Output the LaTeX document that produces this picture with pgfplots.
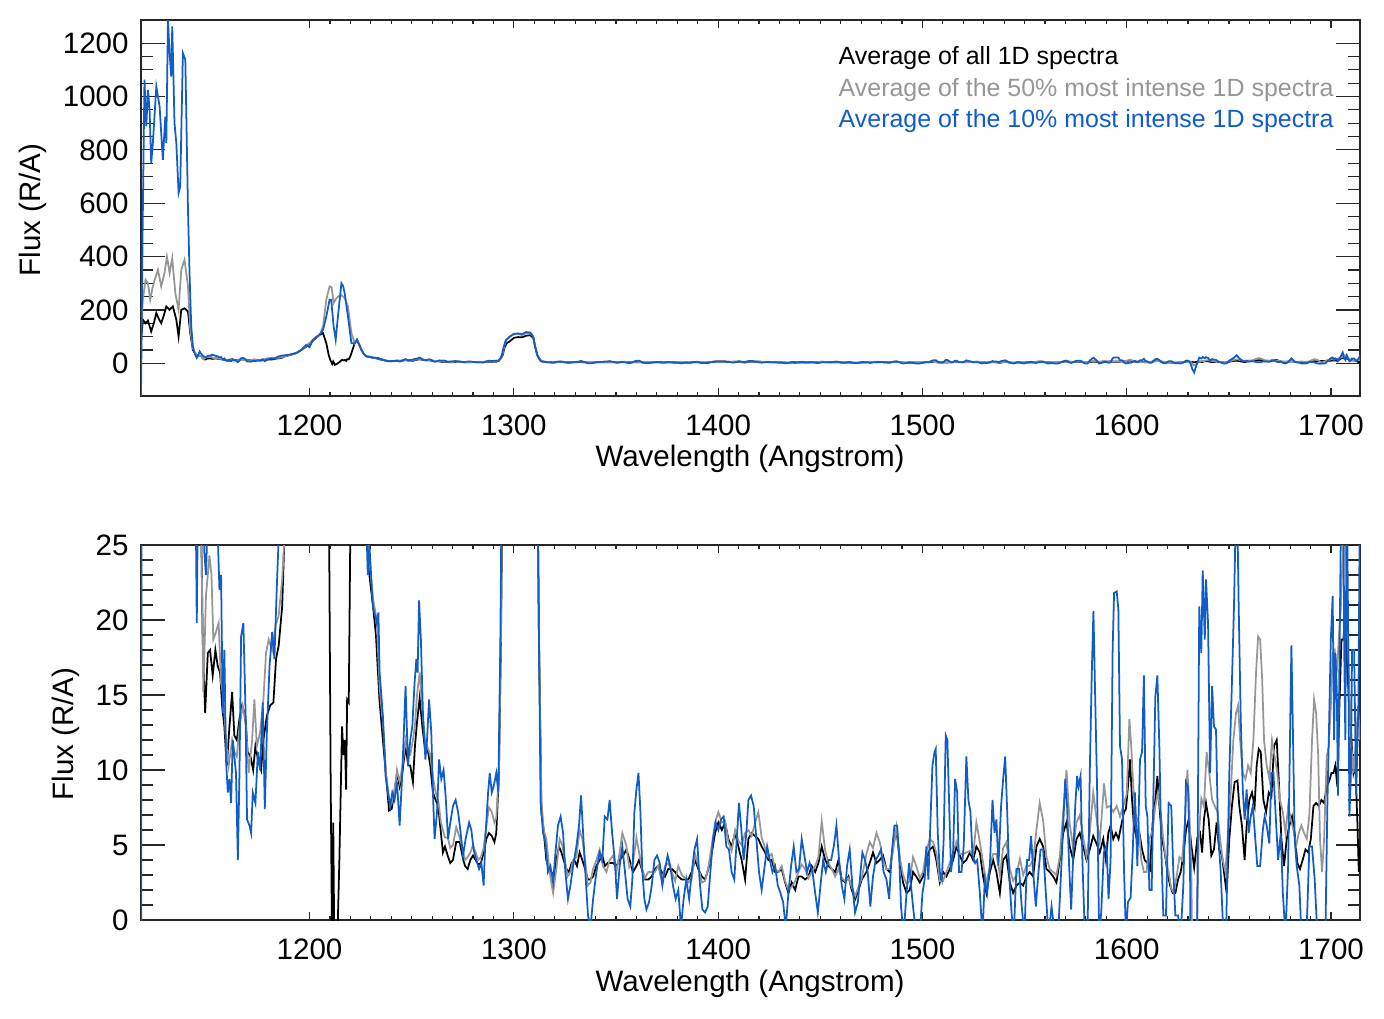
\documentclass[border=0pt]{standalone}
\usepackage{fontspec}
\setmainfont{Liberation Sans}
\usepackage{pgfplots}
\usepackage{pgfplotstable}
\pgfplotsset{compat=1.18}
\definecolor{cblue}{RGB}{16,92,200}
\definecolor{cgray}{RGB}{150,150,150}

\pgfplotstableread{
x y
1117.5 80
1118.4 163
1119.7 150
1120.9 160
1122.5 119
1123.8 150
1125.0 188
1126.3 165
1127.4 150
1128.7 180
1129.9 213
1131.5 200
1133.1 213
1134.8 163
1135.9 100
1137.2 200
1138.8 206
1140.5 194
1141.6 113
1142.9 50
1144.5 31
1146.0 28
1147.0 26
1147.7 18.7
1148.9 13.8
1150.2 17.8
1151.3 18
1152.6 16.3
1153.9 18
1155.1 16.9
1156.2 16.5
1157.2 14.3
1158.3 12.9
1159.5 10.3
1160.8 12.9
1162.1 15.2
1163.2 12.3
1164.4 12
1165.7 13.4
1167.0 14.3
1168.6 13.6
1169.7 11.2
1171.1 10.9
1172.4 10
1173.5 11.6
1174.8 10.7
1176.3 10
1177.4 12
1179.1 13.6
1180.7 14.3
1182.3 14.5
1183.6 17.4
1184.9 18.3
1186.6 20.9
1187.7 25.5
1190.0 30
1193.5 38
1196.0 50
1198.4 62
1201.7 85
1204.9 106
1206.6 113
1208.2 75
1209.4 30
1210.3 10
1211.1 -3
1211.6 6.5
1212.4 -6
1213.3 -3
1214.6 4
1215.9 12.9
1216.6 11
1217.3 12
1217.9 8.7
1218.4 14.7
1219.2 14.5
1219.9 25
1220.5 38
1222.1 75
1223.2 88
1224.3 70
1225.4 50
1226.5 35
1227.8 26
1229.3 23
1231.0 21
1232.5 19
1234.2 14.7
1235.9 12
1237.6 9.4
1238.9 7.3
1240.2 7.4
1241.5 8.5
1242.8 9.8
1244.1 8.9
1245.4 9.8
1247.0 11.6
1248.3 10.3
1249.3 10.3
1250.6 9.2
1251.6 11.6
1252.6 13.2
1253.9 14.8
1255.2 12.9
1256.5 11.4
1257.8 11.4
1259.1 10.3
1260.4 8.5
1261.7 8
1263.0 7.6
1264.3 5.8
1265.3 4.5
1266.3 4.9
1267.6 4.3
1268.9 3.8
1270.2 4
1271.8 5.2
1273.5 5.2
1274.8 4.3
1276.1 3.6
1277.4 3.4
1278.7 4
1280.0 4.3
1281.3 4
1282.6 3.7
1283.9 3.8
1285.2 4.5
1286.5 5.4
1287.8 5.8
1289.2 5.6
1290.5 5.2
1291.4 5.8
1292.7 9.8
1293.7 18.7
1294.5 30
1295.5 60
1296.5 75
1298.0 82
1300.0 95
1302.0 98
1304.0 97
1306.0 103
1308.0 105
1309.5 95
1310.5 60
1311.5 30
1312.3 18.7
1313.5 7.2
1314.6 6
1315.9 4
1317.2 3.4
1318.4 3.2
1319.5 2.9
1320.8 4
1322.1 4.9
1323.3 4.5
1324.4 4
1325.7 3.4
1327.0 3.2
1328.3 3.8
1329.6 4
1330.9 3.6
1332.2 4.5
1333.5 4
1334.9 3.4
1336.2 2.7
1337.5 2.7
1338.8 2.9
1340.4 3.6
1342.0 4
1343.3 4.3
1344.6 3.6
1346.0 3.8
1347.3 3.8
1348.6 3.8
1350.2 3.6
1351.8 4
1353.5 4.3
1355.1 4.7
1356.7 4
1358.3 3.2
1360.0 3.6
1361.3 4
1362.6 3.4
1364.2 2.7
1365.8 2.7
1367.5 2.9
1369.1 3.4
1370.7 3.6
1372.4 3.2
1374.0 2.9
1375.6 3.4
1377.3 3.4
1378.9 3.2
1380.5 2.9
1382.2 2.7
1383.8 2.7
1385.4 2.7
1387.1 3.2
1388.7 4
1390.3 3.4
1392.0 2.9
1393.6 2.7
1395.2 3.4
1396.9 4.5
1398.5 5.8
1400.1 6.5
1401.8 6
1403.4 6.5
1405.0 5.4
1406.6 4.9
1408.3 5.8
1409.9 4.9
1411.5 4
1413.2 2.7
1414.8 5.4
1416.4 5.8
1418.1 5.6
1419.7 5.4
1421.3 4.9
1423.0 4.5
1424.6 4
1426.2 4
1427.9 3.2
1429.5 3.2
1431.1 3.4
1432.8 2.5
1434.4 1.8
1436.0 2.5
1437.7 2
1439.3 2.9
1440.9 2.9
1442.6 2.7
1444.2 2.9
1445.8 3.6
1447.5 3.2
1449.1 3.8
1450.7 4.9
1452.4 4
1454.0 3.6
1455.6 3.4
1457.3 3.2
1458.9 4
1460.5 2.7
1462.2 2.5
1463.8 2.9
1465.4 2
1467.1 1.4
1468.7 2
1470.3 2.7
1472.6 3.2
1474.2 3.8
1475.8 4.5
1477.5 3.8
1479.1 4
1480.7 4.3
1482.4 3.4
1484.0 3.2
1485.6 4.9
1487.3 6
1488.9 4
1490.5 2.5
1492.2 1.8
1493.8 2
1495.4 3.2
1497.0 2.9
1498.7 2.5
1500.3 2.9
1501.9 4
1503.6 4.7
1505.2 4.9
1506.8 4
1508.5 2.5
1510.1 3.2
1511.7 2.9
1513.4 3.4
1515.0 4
1516.6 4.9
1518.3 4.3
1519.9 3.8
1521.5 4
1523.2 4.5
1524.8 4
1526.4 4.9
1528.1 4.5
1529.7 2.9
1531.3 1.8
1533.0 3.2
1534.6 4
1536.2 3.2
1537.9 1.8
1539.5 4
1541.1 4.3
1542.8 2.5
1544.4 1.8
1546.0 2.3
1547.7 2.5
1549.3 2.3
1550.9 2.9
1552.5 3.2
1554.2 2.9
1555.8 4.9
1557.4 5.4
1559.1 4.9
1560.7 3.4
1562.3 3.2
1564.0 2.9
1565.6 2.5
1567.2 4
1568.9 5.8
1570.5 6.5
1572.1 4.9
1573.8 4
1575.4 5.4
1577.0 5.8
1578.7 4.9
1580.3 4
1581.9 4.7
1583.6 5.6
1585.2 5.1
1586.8 4.5
1588.5 5.4
1589.8 4
1591.0 5.8
1592.1 6.3
1593.4 5.4
1594.7 5.8
1596.0 5.4
1597.3 6.3
1598.7 7.2
1599.6 7.4
1600.6 8.9
1601.6 10.7
1602.6 8
1603.5 6.3
1604.9 5.4
1606.2 5.8
1607.5 4.7
1608.8 4
1610.1 3.8
1611.4 3.4
1612.7 6.5
1614.0 8
1615.0 9.6
1616.0 7.6
1617.3 5.4
1618.6 4.5
1619.9 3.2
1621.2 2.3
1622.5 1.8
1623.8 1.8
1625.1 2.7
1626.4 3.2
1627.7 4.3
1629.0 6
1630.3 6.7
1631.6 5
1633.0 3.5
1634.6 5.5
1635.9 5.8
1636.9 4.5
1637.8 6.7
1638.8 7.8
1640.1 6.7
1641.4 4.3
1642.7 4.7
1644.0 6.5
1645.3 4.7
1646.6 4.3
1647.6 3.2
1648.9 1.8
1650.2 5.4
1651.5 7.6
1652.8 9.2
1654.2 9.3
1655.1 7.6
1656.4 6.3
1657.7 4
1658.7 6.3
1660.0 8
1661.3 8.5
1662.6 7.6
1663.6 10.3
1664.6 11.4
1665.6 11.2
1666.9 8
1668.2 7.2
1669.5 8.5
1670.8 8.2
1672.1 11.6
1673.4 12
1674.4 9.4
1675.7 5.4
1677.0 3.6
1678.3 5.4
1679.6 6.3
1680.9 6.9
1682.2 5.8
1683.5 3.8
1684.8 3.4
1686.1 4
1687.5 4.7
1688.8 4.5
1690.1 5.4
1691.4 7.6
1692.7 7.8
1694.0 7.6
1695.3 8
1696.6 7.8
1697.9 8.9
1699.2 9.3
1700.2 9.8
1701.2 9.8
1702.1 10.3
1703.1 8.9
1704.1 14.3
1705.1 18.7
1706.0 18.7
1707.0 20
1708.0 16.5
1709.0 14.3
1710.0 12
1711.0 9.8
1711.9 10.3
1712.9 6.5
1713.6 3.2
1714.2 4.9
}\blackdata

\pgfplotstableread{
x y
1117.5 120
1118.4 238
1119.7 313
1120.9 300
1122.0 238
1123.3 288
1124.5 320
1125.8 350
1127.4 288
1129.0 338
1130.2 400
1131.5 338
1132.8 394
1134.3 263
1135.9 200
1137.2 350
1138.8 388
1140.5 288
1141.6 125
1142.9 56
1144.5 30
1146.0 28
1147.0 26
1148.0 15.2
1149.3 21.6
1151.0 24.3
1152.0 23
1152.9 18.7
1154.2 19.2
1155.5 19.8
1156.7 15.8
1157.8 14.9
1159.1 12
1160.4 10.3
1162.1 12
1163.2 11.2
1164.4 10.9
1165.7 12.9
1167.3 14.3
1168.9 12.9
1170.2 9.8
1171.9 12
1173.0 14.7
1174.2 11.6
1175.8 12.5
1177.4 14.7
1178.7 17.8
1180.0 18.7
1181.7 18
1183.3 19.6
1184.9 20.3
1186.6 22.7
1187.7 25.5
1190.0 30
1193.5 38
1196.0 50
1198.4 65
1201.7 88
1204.9 106
1206.6 138
1208.2 238
1209.8 288
1210.8 285
1211.8 225
1212.8 240
1213.9 250
1215.6 256
1217.2 244
1218.8 213
1220.5 113
1222.1 75
1223.2 88
1224.3 70
1225.4 50
1226.5 35
1227.7 27
1229.3 24
1231.0 21.5
1232.9 20
1234.3 15.5
1236.0 13
1237.6 9.6
1239.0 8
1240.2 7.8
1241.5 8.5
1242.8 10
1244.1 9.2
1245.4 10.2
1247.0 12
1248.3 11
1249.3 11
1250.6 12
1251.6 13
1252.6 15
1253.9 16.5
1255.2 14
1256.5 12
1257.8 11.5
1259.1 11
1260.4 9.5
1261.7 8.5
1263.0 8
1264.3 6.5
1265.3 6
1266.3 5.5
1267.6 5.5
1268.9 4.8
1270.2 5
1271.8 6.2
1273.5 5.5
1274.8 4.8
1276.1 4
1277.4 4.2
1278.7 4.5
1280.0 5
1281.3 4.5
1282.6 4
1283.9 4.2
1285.2 4.8
1286.5 6.2
1287.8 7.5
1289.2 7.2
1290.5 6.5
1291.4 6.8
1292.7 10
1293.7 19
1294.5 35
1295.5 70
1296.5 90
1298.0 100
1300.0 108
1302.0 110
1304.0 106
1306.0 113
1308.0 112
1309.5 100
1310.5 60
1311.5 30
1312.3 19
1313.5 8
1314.6 6
1315.9 5.4
1317.5 3.2
1319.2 1.8
1320.8 3.4
1322.4 5.4
1323.7 5
1325.0 4
1326.3 2.9
1327.7 3.2
1329.0 4
1330.6 4.2
1332.2 6
1333.5 5.4
1334.9 4
1336.2 2.3
1337.5 2.5
1338.8 3.4
1340.4 4
1342.0 4.7
1343.6 3.6
1345.3 3.2
1346.9 4
1348.6 4.3
1350.2 3.2
1351.8 4.5
1353.1 5.8
1355.0 5
1356.5 3.5
1358.3 3.8
1360.0 5.5
1361.3 4.5
1362.6 3.5
1364.2 2.8
1365.8 3.2
1367.5 3.2
1369.0 3.2
1370.7 3.6
1372.4 2.6
1374.0 3.6
1375.6 3.8
1377.3 3.2
1379.0 2.6
1380.5 3.6
1382.2 3.0
1383.8 2.8
1385.4 2.5
1387.0 2.7
1388.7 4.4
1390.3 3.6
1392.0 2.5
1393.6 2.6
1395.2 3.5
1396.9 5
1398.5 6.5
1400.1 7.2
1401.8 6.5
1403.4 6.6
1405.0 5.2
1406.6 4.6
1408.3 6
1409.9 5.3
1411.5 5
1413.2 5.8
1414.8 6
1416.4 5.6
1418.1 6.5
1419.7 7.2
1421.3 5.5
1423.0 4.8
1424.6 4.2
1426.2 4.4
1427.9 3.4
1429.5 3.2
1431.1 3.6
1432.8 2.6
1434.4 2.0
1436.0 2.2
1437.7 2.6
1439.3 3.2
1440.9 3.7
1442.6 3.4
1444.2 2.8
1445.8 3.2
1447.5 3.6
1449.1 4.2
1450.7 6.6
1452.4 4.6
1454.0 3.8
1455.6 3.4
1457.3 2.9
1458.9 3.4
1460.5 2.8
1462.2 2.6
1463.8 2.8
1465.4 2.2
1467.1 1.6
1468.7 2.2
1470.3 2.8
1472.6 4.4
1474.2 5.2
1475.8 4.8
1477.5 5.8
1479.1 5.2
1480.7 4
1482.4 3.4
1484.0 3.4
1485.6 4.6
1487.3 6.2
1488.9 4.2
1490.5 3
1492.2 2.4
1493.8 2.6
1495.4 4.2
1497.0 3.6
1498.7 2.8
1500.3 3.2
1501.9 4.6
1503.6 5.4
1505.2 5.2
1506.8 4.5
1508.5 2.6
1510.1 2.6
1511.7 3.2
1513.4 3.8
1515.0 4.5
1516.6 5.2
1518.3 4.4
1519.9 4.4
1521.5 4.5
1523.2 4.6
1524.8 4.3
1526.4 6.5
1528.1 5.2
1529.7 3.8
1531.3 2.4
1533.0 3.6
1534.6 4.4
1536.2 4.4
1537.9 3.0
1539.5 4.8
1541.1 5.2
1542.8 3.4
1544.4 2.6
1546.0 3.0
1547.7 4.1
1549.3 3.0
1550.9 3.6
1552.5 3.6
1554.2 4.0
1555.8 6.0
1557.4 7.8
1559.1 6.6
1560.7 4.2
1562.3 3.4
1564.0 3.2
1565.6 3.0
1567.2 4.2
1568.9 7.2
1570.5 10.0
1572.1 6.4
1573.8 4.8
1575.4 6.5
1577.0 7.0
1578.7 5.5
1580.3 4.2
1581.9 5.8
1583.6 8.5
1585.2 6.8
1586.8 5.2
1588.9 9.1
1590.2 7.5
1591.8 7.6
1593.4 7.2
1595.1 7.6
1596.7 6.9
1598.3 7.6
1600.0 8.4
1601.3 13.4
1602.2 11.6
1603.2 8.9
1604.5 6.9
1605.8 6.5
1607.1 4
1608.4 3.2
1609.7 3.2
1611.1 5.4
1612.7 6
1614.0 7.6
1615.3 8.5
1616.6 7.2
1617.9 5.4
1619.2 4
1620.5 3.2
1621.8 2.1
1623.1 1.8
1624.4 2.9
1625.8 4.2
1627.1 4
1628.4 6.3
1629.7 10
1630.6 7.6
1631.6 3.2
1632.6 -8
1634.0 -4
1635.2 5.4
1636.5 8.1
1637.8 7.6
1639.1 11.2
1640.4 9.8
1641.8 8
1643.1 7.6
1644.4 7.2
1645.7 5.4
1647.0 4
1648.3 3.2
1649.6 5.8
1650.9 8.5
1652.2 12
1653.5 13.8
1654.5 14.3
1655.5 12
1656.8 9.8
1658.1 9.4
1659.4 10.3
1660.7 9.8
1662.0 12
1663.3 16.5
1664.3 18.9
1665.3 18.7
1666.3 16
1667.2 12
1668.5 10.3
1669.8 9.4
1671.1 12
1672.4 10.9
1673.7 9.8
1675.0 8
1676.4 7.2
1677.7 5.8
1679.0 7.6
1680.3 6.7
1681.6 6
1682.9 4.9
1684.2 5.8
1685.5 6.3
1686.8 5.8
1688.1 5.4
1689.4 7
1690.7 12
1691.7 14.7
1692.7 13.8
1693.7 11
1694.6 5.4
1695.6 3.2
1696.6 5.4
1697.9 10.9
1698.9 11.6
1699.9 14.3
1700.8 17.8
1701.8 18
1702.8 16.5
1703.8 18.7
1704.8 20.9
1705.7 24.3
1706.7 30
1707.7 23
1708.7 16.5
1709.7 12
1711.0 9.8
1712.3 12
1713.2 14.3
1714.2 12
}\graydata

\pgfplotstableread{
x y
1117.5 -123
1118.3 500
1119.2 1063
1120.1 888
1120.9 1025
1121.7 950
1122.5 750
1123.3 825
1125.0 1038
1126.6 963
1128.2 763
1129.4 925
1129.9 825
1130.7 1287
1131.5 1163
1132.3 1075
1132.8 1263
1133.9 900
1134.8 825
1135.9 638
1136.7 663
1138.0 1163
1139.2 1138
1140.5 575
1141.3 325
1142.1 138
1142.9 63
1143.8 35
1144.8 19.8
1145.5 30
1146.2 44
1147.0 35
1147.8 28
1148.5 24.5
1149.3 23
1150.2 27
1151.8 30
1152.6 32
1153.8 28
1155.1 25.5
1155.9 22
1156.7 23
1157.5 13.8
1158.3 18
1159.1 10.7
1160.0 8.5
1160.8 9.4
1161.6 7.8
1162.4 12
1163.2 10.9
1164.0 9.8
1164.9 4.0
1165.7 9.8
1166.5 18.9
1167.6 19.8
1168.6 14.3
1169.4 6.7
1170.6 6.3
1171.4 5.8
1172.2 8.5
1173.5 7.8
1174.7 11.2
1175.8 10.0
1177.1 14.5
1178.1 7.4
1179.1 12.5
1180.4 16.9
1181.7 19.2
1182.8 17.4
1184.0 22.3
1184.9 25.5
1186.0 28
1188.0 30
1190.0 32
1192.0 35
1194.0 40
1196.0 50
1198.4 69
1200.0 60
1201.7 88
1203.5 100
1204.9 106
1206.6 125
1208.2 175
1209.8 238
1210.6 238
1211.8 138
1212.8 88
1213.9 175
1215.6 300
1216.4 290
1217.2 263
1218.8 175
1220.5 75
1222.1 75
1223.2 88
1224.3 70
1225.4 50
1226.5 35
1227.7 27
1228.5 23
1229.3 25
1231.0 20.9
1232.9 19.8
1233.7 20.5
1234.3 16.5
1235.9 13.6
1237.2 9.6
1238.4 8.5
1239.5 7.6
1240.5 8.5
1241.6 8.0
1242.8 9.2
1244.1 6.3
1245.4 9.8
1247.0 15.6
1248.2 10.3
1249.3 12
1250.3 12.9
1251.4 15.8
1252.3 17.4
1252.9 16.5
1253.6 21.3
1254.5 18.7
1255.5 13.8
1256.7 10.7
1257.5 12
1258.5 14.7
1259.6 12.5
1260.4 8.5
1261.2 5.4
1262.4 7.2
1263.4 10.7
1264.5 9.4
1265.6 10
1266.6 8.3
1267.8 5.4
1268.9 6.5
1270.2 7.6
1271.5 8
1272.7 7.2
1273.8 6
1275.1 4.3
1276.4 5.4
1278.1 6.5
1279.2 6
1280.3 4.7
1281.6 4
1283.0 3.4
1284.1 3.8
1285.2 2.3
1286.2 5.8
1287.4 8.5
1288.2 9.8
1289.2 8.5
1290.1 8.9
1291.4 9.8
1292.4 8.5
1293.4 18.7
1294.1 30
1295.0 60
1296.0 85
1298.0 100
1300.0 110
1302.0 112
1304.0 108
1306.0 117
1308.0 115
1309.5 100
1310.5 60
1311.5 30
1312.3 18.7
1313.1 7.8
1314.3 5.8
1315.4 5.2
1316.7 3.2
1317.9 3.6
1319.2 2.5
1320.5 4.7
1321.6 6.3
1322.9 6.9
1324.1 5.8
1325.2 3.2
1326.5 1.4
1327.7 2.3
1329.0 3.6
1330.6 4.9
1331.9 6.3
1332.9 8.3
1333.9 5.8
1335.2 2.7
1336.3 0.3
1337.5 -0.5
1338.8 1.4
1340.4 3.2
1342.0 4.5
1343.3 4
1344.5 6.9
1345.8 6.7
1346.9 8
1348.1 5.8
1349.4 4
1350.5 1.4
1351.8 3.6
1353.1 4.9
1354.4 3.2
1355.7 1.4
1357.0 0.9
1358.0 2.7
1359.0 7.2
1360.0 8.7
1361.0 9.8
1361.9 7.4
1362.9 3.2
1363.9 1.4
1364.9 0.7
1366.2 1.2
1367.5 2.3
1368.8 4
1370.1 4.3
1371.4 3.8
1372.7 2.3
1374.0 3.4
1375.3 4.3
1376.6 3.6
1377.9 2.3
1379.2 1.4
1380.5 2
1381.8 -0.5
1383.1 1.4
1384.4 2.7
1385.8 1.4
1387.1 3.2
1388.4 4.7
1389.7 5.4
1391.0 2.5
1392.3 0.7
1393.6 0.5
1394.9 0.9
1396.2 3.2
1397.5 5.4
1398.8 6.5
1400.1 6
1401.4 6.7
1402.7 6.9
1404.0 4.9
1405.3 4.7
1406.6 3.2
1407.9 2.7
1409.3 5.8
1410.2 7.8
1411.2 6.3
1412.5 4
1413.8 5.8
1414.8 8
1416.1 8.3
1417.4 7.6
1418.7 5.4
1420.0 3.2
1421.3 2
1422.6 3.4
1424.0 4.9
1425.3 4
1426.6 3.2
1427.9 3.6
1429.2 2.3
1430.5 1.8
1431.8 1.2
1433.1 -0.5
1434.4 1.8
1435.7 3.6
1437.0 4.9
1438.3 3.2
1439.6 3.4
1440.9 5.4
1442.2 4.3
1443.5 3.2
1444.8 3.8
1446.2 3.2
1447.5 1.8
1448.8 0.5
1450.1 2.3
1451.4 4
1452.7 3.2
1454.0 4
1455.3 4
1456.6 4.9
1457.9 6.3
1459.2 4
1460.5 2.3
1461.8 1.4
1463.1 3.6
1464.4 4.7
1465.7 2.3
1467.0 0.5
1468.4 1.2
1469.7 3.2
1470.6 4.5
1471.9 4
1473.2 3.2
1474.5 0.9
1475.8 2.9
1477.1 4
1478.4 4.3
1479.7 4.7
1481.0 3.2
1482.4 2.7
1483.7 1.4
1485.0 4.5
1486.3 6.3
1487.6 6.3
1488.6 4.3
1489.5 0.9
1490.8 -1
1492.2 1.8
1493.5 3.8
1494.6 2
1495.7 0.5
1497.0 -1
1498.7 -1
1500.0 1.8
1501.1 2.7
1501.9 4.9
1502.9 2.7
1503.9 6.5
1504.9 10.3
1505.9 11.2
1506.5 11.4
1507.5 5.8
1508.5 3.2
1509.5 2.7
1510.4 5.4
1511.4 12.3
1512.2 12
1513.1 7.6
1514.0 3.2
1515.0 4.5
1516.0 9.4
1517.0 8.5
1517.9 3.2
1519.1 3.2
1520.2 4.9
1521.5 10.9
1522.5 8
1523.5 7.2
1524.5 4.3
1525.8 3.8
1526.8 4
1528.1 1.8
1529.4 -1
1530.5 2.7
1531.7 1.8
1533.0 3.6
1534.3 8
1535.3 5.8
1536.2 6.7
1537.2 3.6
1538.5 7.6
1539.5 9.4
1540.5 10.9
1541.5 7.2
1542.4 3.2
1543.6 0.5
1544.7 -1
1546.0 3.4
1547.3 3.4
1548.6 0.9
1549.9 -1
1551.2 4
1552.2 4
1553.2 5.6
1554.2 3.2
1555.5 0.9
1556.8 3.2
1557.8 4.7
1559.1 4.7
1560.4 1.8
1561.7 -1
1563.2 0.9
1564.8 -1
1566.4 -1
1567.7 2.7
1568.9 6.3
1569.9 9.4
1570.8 7.6
1571.8 3.6
1572.8 0.7
1573.8 4.3
1574.8 7.6
1575.7 9.6
1576.4 8.9
1577.4 9.6
1578.3 4
1579.5 -1
1580.8 -1
1581.9 9.8
1582.9 16.5
1583.7 20.6
1584.5 15.2
1585.5 8.7
1586.5 -1
1587.5 0.5
1588.8 4.5
1590.1 5
1591.1 1.4
1592.1 4
1593.1 18
1593.8 21.8
1595.1 21.9
1595.9 20.7
1596.7 11.6
1597.7 10.7
1598.7 3.2
1599.6 -1
1600.6 1.2
1601.9 1.5
1602.9 4.5
1604.0 8.5
1605.2 3.6
1606.5 10.7
1607.5 11.2
1608.4 16.3
1609.3 7.6
1610.1 6.9
1611.1 2
1612.2 2
1613.0 8
1614.0 14.9
1615.0 16.3
1616.0 11.4
1616.9 4.9
1617.9 0.3
1619.2 0.3
1620.5 7.8
1621.8 7.6
1622.8 3.2
1623.8 0.3
1625.1 0.3
1626.4 -1
1627.7 2.3
1629.0 9.2
1630.0 8.9
1631.0 3.2
1632.0 -20
1633.0 -35
1634.0 -10
1634.6 2.7
1635.5 20.9
1636.5 17.8
1637.2 23.3
1638.2 18.7
1638.8 22.7
1639.8 19.8
1640.8 9.8
1641.8 15.6
1642.7 12.9
1643.7 12.7
1644.7 5.8
1646.0 3.2
1647.3 -1
1648.6 -1
1650.2 9.8
1651.4 15.4
1652.5 20.9
1653.8 30
1654.8 20.9
1655.8 13.4
1656.8 8.7
1657.7 6.7
1658.7 8.7
1659.7 5.8
1660.7 6.9
1661.7 7.6
1662.6 6
1663.9 3.6
1665.3 3.6
1666.6 6
1667.5 6.9
1668.5 6.3
1669.8 5.1
1670.8 9.8
1671.8 9.8
1673.1 6.5
1674.1 4
1675.4 5.8
1676.4 1.8
1677.7 -1
1679.0 3.6
1680.0 12.9
1680.6 18.3
1681.3 12.9
1682.2 5.4
1683.2 3.6
1684.5 2.3
1685.5 -1
1686.8 -1
1688.1 -0.5
1689.4 4.9
1690.7 4.9
1692.0 2.7
1693.3 -1
1694.6 -2
1695.9 -1
1697.3 -0.5
1698.2 7.6
1698.9 12
1699.9 18.7
1700.8 21.6
1701.5 12
1702.1 17.8
1702.8 15.4
1703.4 8.3
1704.1 16.9
1704.8 26
1705.7 40
1706.4 18.7
1707.0 12
1707.7 30
1708.4 18.7
1709.0 6.9
1709.7 9.6
1710.3 18
1711.3 18
1712.3 8.3
1713.4 14.3
1714.2 30
}\bluedata

\pgfplotsset{
  specax/.style={
    scale only axis,
    width=121.9mm,
    xmin=1117.5, xmax=1714.2,
    xtick={1200,1300,1400,1500,1600,1700},
    minor x tick num=9,
    tick align=inside,
    axis line style={black!85, line width=0.35pt},
    every tick/.style={black!85, line width=0.35pt},
    xtick style={/pgfplots/major tick length=0.8mm, /pgfplots/minor tick length=0.4mm},
    ytick style={/pgfplots/major tick length=2.4mm, /pgfplots/minor tick length=1.2mm},
    ticklabel style={font=\fontsize{8.4}{10}\selectfont},
    /pgf/number format/assume math mode=true,
    /pgf/number format/1000 sep={},
    xticklabel style={yshift=-0.6mm},
    every axis plot/.append style={line width=0.5pt},
  }
}

\begin{document}
\begin{tikzpicture}
\path[use as bounding box] (0,0) rectangle (138.4mm,-101.8mm);

\begin{axis}[specax, at={(14.1mm,-39.6mm)}, anchor=south west,
  height=37.6mm, ymin=-123, ymax=1287,
  ytick={0,200,400,600,800,1000,1200}, minor y tick num=3]
\addplot[black] table {\blackdata};
\addplot[cgray] table {\graydata};
\addplot[cblue] table {\bluedata};
\end{axis}

\begin{axis}[specax, at={(14.1mm,-92.0mm)}, anchor=south west,
  height=37.5mm, ymin=0, ymax=25,
  ytick={0,5,10,15,20,25}, minor y tick num=4]
\addplot[black] table {\blackdata};
\addplot[cgray] table {\graydata};
\addplot[cblue] table {\bluedata};
\end{axis}

\begin{scope}[every node/.style={inner sep=0pt, font=\fontsize{7.1}{8.5}\selectfont}]
\node[anchor=west, black] at (83.8mm,-5.8mm) {Average of all 1D spectra};
\node[anchor=west, cgray] at (83.8mm,-9.0mm) {Average of the 50\% most intense 1D spectra};
\node[anchor=west, cblue] at (83.8mm,-12.1mm) {Average of the 10\% most intense 1D spectra};
\end{scope}

\begin{scope}[every node/.style={inner sep=0pt, font=\fontsize{8.4}{10}\selectfont}]
\node at (75.0mm,-45.9mm) {Wavelength (Angstrom)};
\node at (75.0mm,-98.4mm) {Wavelength (Angstrom)};
\node[rotate=90] at (3.3mm,-21.0mm) {Flux (R/A)};
\node[rotate=90] at (6.6mm,-73.4mm) {Flux (R/A)};
\end{scope}
\end{tikzpicture}
\end{document}
